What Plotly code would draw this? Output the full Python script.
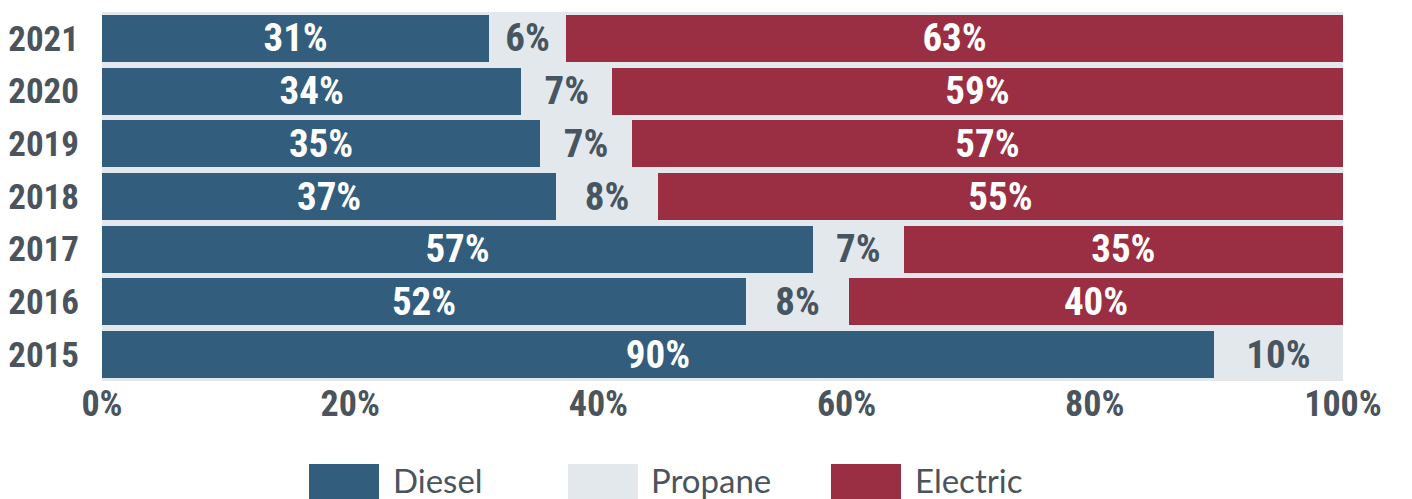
import plotly.graph_objects as go

years = ["2021", "2020", "2019", "2018", "2017", "2016", "2015"]
diesel = [31.2, 33.8, 35.3, 36.6, 57.3, 51.9, 89.6]
propane = [6.2, 7.3, 7.4, 8.2, 7.3, 8.3, 10.4]
electric = [62.6, 58.9, 57.3, 55.2, 35.4, 39.8, 0.0]
series_names = ["Diesel", "Propane", "Electric"]
tick_vals = [0, 20, 40, 60, 80, 100]
tick_text = ["0%", "20%", "40%", "60%", "80%", "100%"]

C_DIESEL = "#325D7C"
C_PROPANE = "#E3E8EC"
C_ELECTRIC = "#9A2F44"
C_TEXT = "#4B545C"
C_PTEXT = "#46555F"
NARROW = "Liberation Sans Narrow, Arial Narrow, Roboto Condensed, sans-serif"

# page body has an 8px default margin; figure is sized to fit the window
OFF = 8
FIG_W, FIG_H = 1412 - OFF, 499 - OFF
ML, MR, MT, MB = 102 - OFF, 69, 12 - OFF, 118


def labels(vals):
    return [f"{round(v)}%" if v > 0 else "" for v in vals]


fig = go.Figure()
for name, vals, col, tcol in [
    ("Diesel", diesel, C_DIESEL, "white"),
    ("Propane", propane, C_PROPANE, C_PTEXT),
    ("Electric", electric, C_ELECTRIC, "white"),
]:
    fig.add_trace(go.Bar(
        y=years, x=vals, name=name, orientation="h",
        marker=dict(color=col, line=dict(width=0)),
        text=labels(vals), textposition="inside", insidetextanchor="middle",
        constraintext="none", textangle=0,
        textfont=dict(family=NARROW, size=39, color=tcol, weight="bold"),
        hoverinfo="skip",
    ))

fig.update_layout(
    barmode="stack", bargap=0.11,
    width=FIG_W, height=FIG_H,
    margin=dict(l=ML, r=MR, t=MT, b=MB, autoexpand=False),
    paper_bgcolor="white", plot_bgcolor=C_PROPANE,
    showlegend=False,
    font=dict(family=NARROW, color=C_TEXT),
)
fig.update_xaxes(range=[0, 100], tickvals=tick_vals, ticktext=tick_text,
                 showgrid=False, zeroline=False, showline=False,
                 ticklabelstandoff=-2, automargin=False,
                 tickfont=dict(family=NARROW, size=36, color=C_TEXT, weight="bold"))
fig.update_yaxes(autorange="reversed", showgrid=False, zeroline=False,
                 ticklabelstandoff=22, automargin=False,
                 tickfont=dict(family=NARROW, size=35, color=C_TEXT, weight="bold"))

# manual legend with large swatches (positions given in page pixels)
plot_w = FIG_W - ML - MR
plot_h = FIG_H - MT - MB
def px_x(p):
    return (p - OFF - ML) / plot_w
def px_y(p):
    return (MT + plot_h - (p - OFF)) / plot_h

legend_pos = [(309, 392), (568, 650), (831, 914)]
for (sx, tx), name, col in zip(legend_pos, series_names, [C_DIESEL, C_PROPANE, C_ELECTRIC]):
    fig.add_shape(type="rect", xref="paper", yref="paper",
                  x0=px_x(sx), x1=px_x(sx + 70), y0=px_y(464), y1=px_y(510),
                  fillcolor=col, line=dict(width=0), layer="above")
    fig.add_annotation(xref="paper", yref="paper", x=px_x(tx), y=px_y(480),
                       xanchor="left", yanchor="middle", showarrow=False,
                       borderpad=0,
                       text=name, font=dict(family="Lato, sans-serif", size=33, color=C_TEXT))

fig.write_html("out.html")
